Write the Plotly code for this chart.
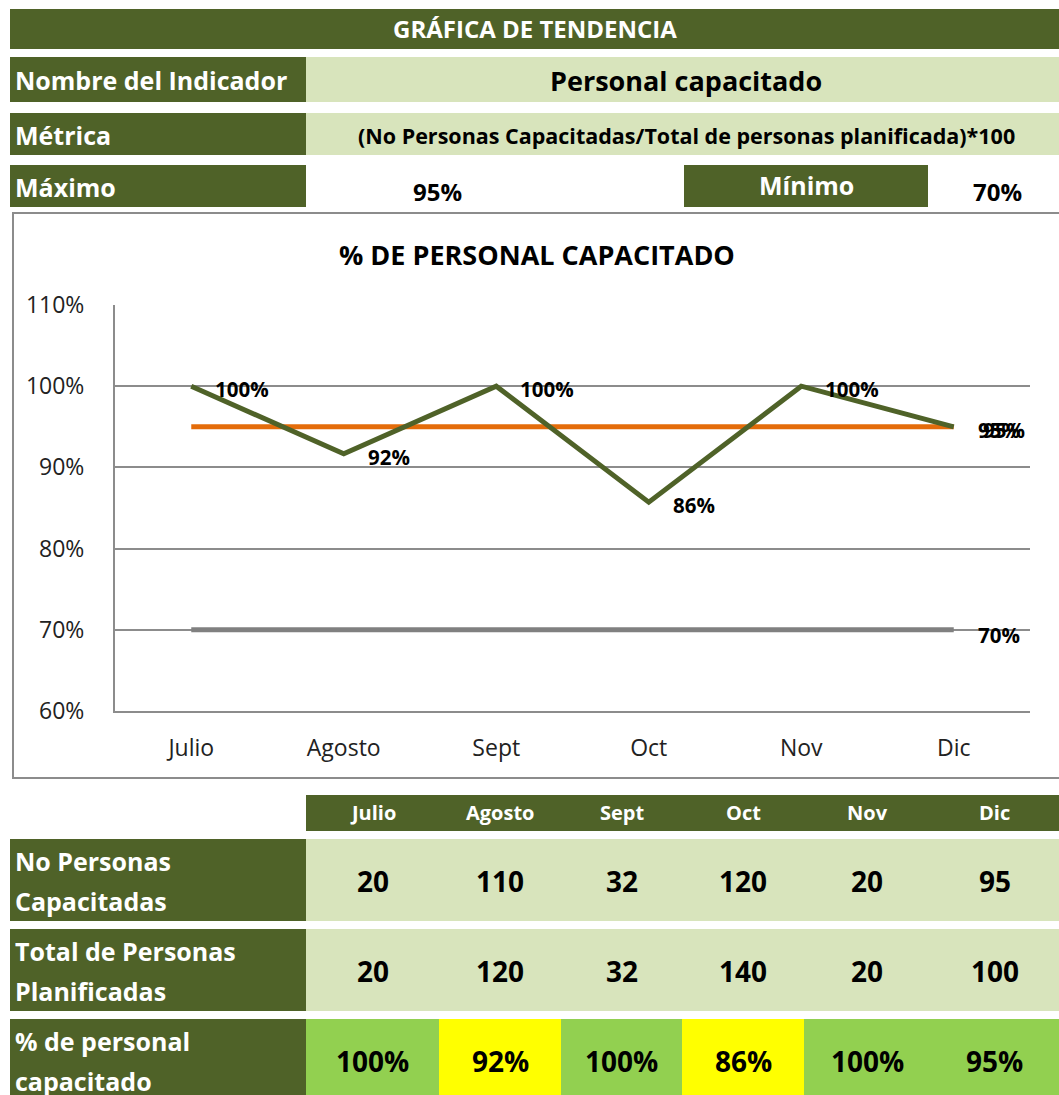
import plotly.graph_objects as go

# ---- indicator data ----
meses = ["Julio", "Agosto", "Sept", "Oct", "Nov", "Dic"]
capacitadas = [20, 110, 32, 120, 20, 95]
planificadas = [20, 120, 32, 140, 20, 100]
maximo = 0.95
minimo = 0.70
y_ticks = [0.6, 0.7, 0.8, 0.9, 1.0, 1.1]

titulo = "GRÁFICA DE TENDENCIA"
indicador = "Personal capacitado"
metrica = "(No Personas Capacitadas/Total de personas planificada)*100"
titulo_grafica = "% DE PERSONAL CAPACITADO"

porcentaje = [c / p for c, p in zip(capacitadas, planificadas)]

# ---- styling ----
W, H = 1059, 1095
FONT = "Open Sans"
DARK = "#4F6228"
LIGHT = "#D8E4BC"
OK_GREEN = "#92D050"
WARN_YELLOW = "#FFFF00"
ORANGE = "#E46C0A"
GRAY = "#808080"
GRID = "#8C8C8C"


def fx(px):
    return px / W


def fy(py):
    return 1 - py / H


shapes = []
annotations = []


def cell(x0, y0, x1, y1, color):
    shapes.append(dict(type="rect", xref="paper", yref="paper",
                       x0=fx(x0), x1=fx(x1), y0=fy(y1), y1=fy(y0),
                       fillcolor=color, line=dict(width=0), layer="below"))


def label(x, y, text, size, color="black", bold=True, xanchor="center"):
    annotations.append(dict(xref="paper", yref="paper", x=fx(x), y=fy(y),
                            text=f"<b>{text}</b>" if bold else text,
                            showarrow=False, xanchor=xanchor, yanchor="middle",
                            font=dict(family=FONT, size=size, color=color)))


def pct(v):
    return f"{round(v * 100):.0f}%"


# ---- header block ----
cell(10, 9, W, 49, DARK)
label(535, 29, titulo, 24, "white")

cell(10, 57, 306, 102, DARK)
cell(306, 57, W, 102, LIGHT)
label(13, 80, "Nombre del Indicador", 25, "white", xanchor="left")
label(686, 80, indicador, 27)

cell(10, 113, 306, 155, DARK)
cell(306, 113, W, 155, LIGHT)
label(13, 135, "Métrica", 25, "white", xanchor="left")
label(686, 136, metrica, 21.5)

cell(10, 165, 306, 207, DARK)
cell(684, 165, 928, 207, DARK)
label(13, 187, "Máximo", 25, "white", xanchor="left")
label(437, 191, pct(maximo), 24)
label(806, 185, "Mínimo", 25, "white")
label(997, 191, pct(minimo), 24)

# ---- chart frame ----
shapes.append(dict(type="rect", xref="paper", yref="paper",
                   x0=fx(13), x1=fx(W + 5), y0=fy(778), y1=fy(213),
                   fillcolor="rgba(0,0,0,0)", line=dict(color=GRID, width=2),
                   layer="below"))
label(537, 254, titulo_grafica, 27)

# ---- lines ----
fig = go.Figure()
fig.add_trace(go.Scatter(x=meses, y=[minimo] * len(meses), mode="lines",
                         line=dict(color=GRAY, width=5), hoverinfo="skip"))
fig.add_trace(go.Scatter(x=meses, y=[maximo] * len(meses), mode="lines",
                         line=dict(color=ORANGE, width=5), hoverinfo="skip"))
fig.add_trace(go.Scatter(x=meses, y=porcentaje, mode="lines",
                         line=dict(color=DARK, width=5), hoverinfo="skip"))

# data labels to the right of each point
for m, v in zip(meses, porcentaje):
    annotations.append(dict(xref="x", yref="y", x=m, y=v, text=f"<b>{pct(v)}</b>",
                            showarrow=False, xanchor="left", yanchor="middle",
                            xshift=27 if m == meses[-1] else 22, yshift=-3,
                            font=dict(family=FONT, size=20.5, color="black")))
for v in (maximo, minimo):
    annotations.append(dict(xref="x", yref="y", x=meses[-1], y=v, text=f"<b>{pct(v)}</b>",
                            showarrow=False, xanchor="left", yanchor="middle",
                            xshift=22, yshift=-3 if v == maximo else -5,
                            font=dict(family=FONT, size=20.5, color="black")))

# ---- data table ----
col_edges = [306, 439, 561, 682, 804, 930, W]
cell(306, 795, W, 831, DARK)
for i, m in enumerate(meses):
    cx = (col_edges[i] + col_edges[i + 1]) / 2
    label(cx, 813, m, 20, "white")

rows = [
    (839, 921, ["No Personas", "Capacitadas"], [str(v) for v in capacitadas]),
    (929, 1011, ["Total de Personas", "Planificadas"], [str(v) for v in planificadas]),
    (1019, 1101, ["% de personal", "capacitado"], [pct(v) for v in porcentaje]),
]
for r, (y0, y1, names, vals) in enumerate(rows):
    cell(10, y0, 306, y1, DARK)
    mid = (y0 + y1) / 2
    label(13, mid - 19, names[0], 25, "white", xanchor="left")
    label(13, mid + 21, names[1], 25, "white", xanchor="left")
    for i, t in enumerate(vals):
        if r == 2:
            color = OK_GREEN if porcentaje[i] >= maximo else WARN_YELLOW
        else:
            color = LIGHT
        cell(col_edges[i], y0, col_edges[i + 1], y1, color)
        cx = (col_edges[i] + col_edges[i + 1]) / 2
        label(cx, mid + 1, t, 28)

fig.update_layout(
    width=W, height=H,
    margin=dict(l=0, r=0, t=0, b=0, pad=0),
    paper_bgcolor="white", plot_bgcolor="rgba(0,0,0,0)",
    showlegend=False,
    shapes=shapes, annotations=annotations,
    xaxis=dict(domain=[fx(115), fx(1030)], type="category",
               categoryorder="array", categoryarray=meses,
               range=[-0.5, 5.5], showgrid=False, zeroline=False,
               showline=True, linecolor=GRID, linewidth=2, ticks="",
               tickfont=dict(family=FONT, size=23, color="#222"),
               ticklabelstandoff=15, automargin=False),
    yaxis=dict(domain=[fy(711), fy(305)], range=[0.6, 1.1],
               tickvals=y_ticks, tickformat=".0%",
               showgrid=True, gridcolor=GRID, gridwidth=2, zeroline=False,
               showline=True, linecolor=GRID, linewidth=2, ticks="",
               tickfont=dict(family=FONT, size=23, color="#222"),
               ticklabelstandoff=24, automargin=False),
)

fig.write_html("out.html")
